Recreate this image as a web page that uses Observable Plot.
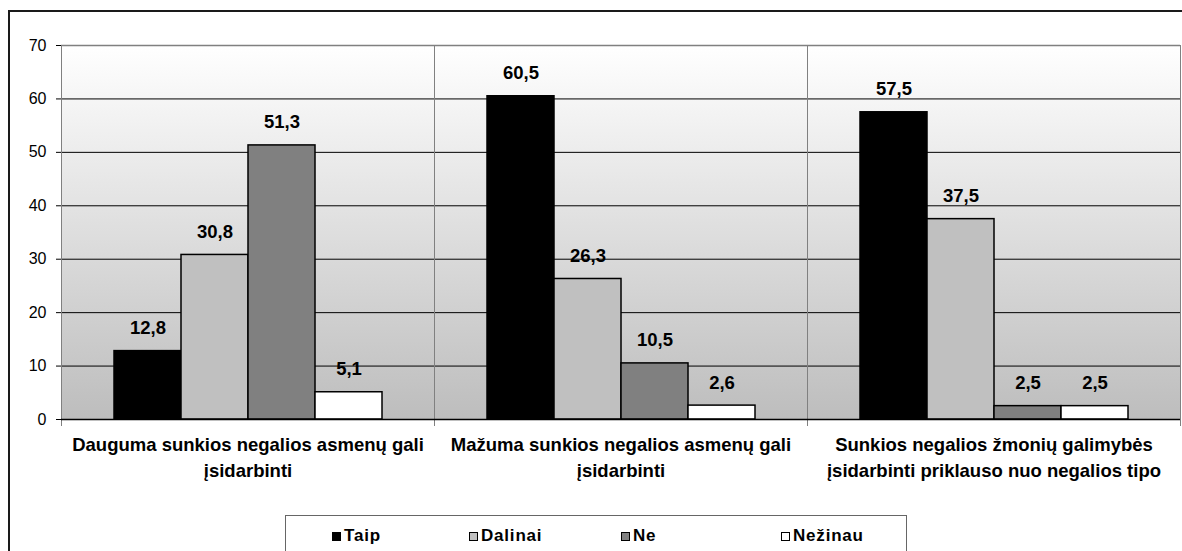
<!DOCTYPE html>
<html>
<head>
<meta charset="utf-8">
<script src="https://cdn.jsdelivr.net/npm/d3@7"></script>
<script src="https://cdn.jsdelivr.net/npm/@observablehq/plot@0.6"></script>
<style>
  html, body { margin: 0; padding: 0; background: #fff; }
  #wrap { position: relative; width: 1182px; height: 551px; overflow: hidden; font-family: "Liberation Sans", Arial, sans-serif; }
  #outer { position: absolute; left: 8px; top: 10px; width: 1400px; height: 800px; border-left: 2px solid #1a1a1a; border-top: 2px solid #1a1a1a; }
  #chart { position: absolute; left: 0; top: 0; }
  #legend { position: absolute; left: 285px; top: 515px; width: 622px; height: 60px; border: 1px solid #666; background: #fff;
            display: grid; grid-template-columns: 183px 152px 160px 127px; align-content: start; padding-top: 10px; box-sizing: border-box; }
  .item { display: flex; align-items: center; font-weight: bold; font-size: 17px; letter-spacing: 0.8px; color: #000; }
  .item:first-child { padding-left: 46px; }
  .sw { width: 9px; height: 9px; border: 1px solid #000; margin-right: 3px; box-sizing: border-box; }
</style>
</head>
<body>
<div id="wrap">
  <div id="outer"></div>
  <div id="chart"></div>
  <div id="legend"></div>
</div>
<script>
const categories = [
  "Dauguma sunkios negalios asmenų gali\nįsidarbinti",
  "Mažuma sunkios negalios asmenų gali\nįsidarbinti",
  "Sunkios negalios žmonių galimybės\nįsidarbinti priklauso nuo negalios tipo"
];
const series = ["Taip", "Dalinai", "Ne", "Nežinau"];
const taip = [12.8, 60.5, 57.5];
const dalinai = [30.8, 26.3, 37.5];
const ne = [51.3, 10.5, 2.5];
const nezinau = [5.1, 2.6, 2.5];
const seriesColors = ["#000000", "#c0c0c0", "#808080", "#ffffff"];
const yTicks = [0, 10, 20, 30, 40, 50, 60, 70];
const gridBlack = [10, 20, 30, 40, 50, 60];
const gridTop = [70];

const valuesBySeries = [taip, dalinai, ne, nezinau];
const data = categories.flatMap((c, i) => series.map((s, j) => ({cat: c, series: s, value: valuesBySeries[j][i]})));

const chart = Plot.plot({
  width: 1182,
  height: 500,
  marginTop: 45,
  marginBottom: 81,
  marginLeft: 60,
  marginRight: 1,
  style: {fontFamily: "'Liberation Sans', Arial, sans-serif", background: "transparent", overflow: "visible", color: "#000"},
  fx: {domain: categories, padding: 0, label: null, axis: null},
  x: {domain: series, paddingInner: 0, paddingOuter: 0.75, axis: null},
  y: {domain: [0, 70], label: null, axis: null},
  color: {domain: series, range: seriesColors},
  marks: [
    Plot.frame({fill: "url(#bgGrad)", stroke: null}),
    Plot.ruleY(gridBlack, {stroke: "#000", strokeWidth: 1}),
    Plot.ruleY(gridTop, {stroke: "#808080", strokeWidth: 1.5}),
    Plot.frame({anchor: "left", stroke: "#808080", insetBottom: -6}),
    Plot.frame({anchor: "right", stroke: "#808080", insetBottom: -6}),
    Plot.barY(data, {fx: "cat", x: "series", y: "value", fill: "series", stroke: "#000", strokeWidth: 1.5}),
    Plot.ruleY([0], {stroke: "#000", strokeWidth: 1.5}),
    Plot.text(data, {fx: "cat", x: "series", y: "value",
      text: d => d.value.toFixed(1).replace(".", ","),
      dy: -17, lineAnchor: "bottom", fontWeight: "bold", fontSize: 18.5, letterSpacing: 0.3}),
    Plot.axisY({ticks: yTicks, tickSize: 5, tickPadding: 10, fontSize: 16, label: null, line: true}),
    Plot.axisFx({anchor: "bottom", tickSize: 0, tickPadding: 13, fontSize: 18.5, fontWeight: "bold", lineHeight: 1.42, letterSpacing: 0.2, label: null})
  ]
});

const svgNS = "http://www.w3.org/2000/svg";
const defs = document.createElementNS(svgNS, "defs");
const grad = document.createElementNS(svgNS, "linearGradient");
grad.setAttribute("id", "bgGrad");
grad.setAttribute("x1", "0"); grad.setAttribute("y1", "0");
grad.setAttribute("x2", "0"); grad.setAttribute("y2", "1");
[["0", "#ffffff"], ["1", "#bdbdbd"]].forEach(([o, c]) => {
  const st = document.createElementNS(svgNS, "stop");
  st.setAttribute("offset", o); st.setAttribute("stop-color", c);
  grad.appendChild(st);
});
defs.appendChild(grad);
chart.insertBefore(defs, chart.firstChild);
document.getElementById("chart").appendChild(chart);

const legend = document.getElementById("legend");
series.forEach((s, j) => {
  const item = document.createElement("div");
  item.className = "item";
  const sw = document.createElement("span");
  sw.className = "sw";
  sw.style.background = seriesColors[j];
  item.appendChild(sw);
  const t = document.createElement("span");
  t.textContent = s;
  item.appendChild(t);
  legend.appendChild(item);
});
</script>
</body>
</html>
